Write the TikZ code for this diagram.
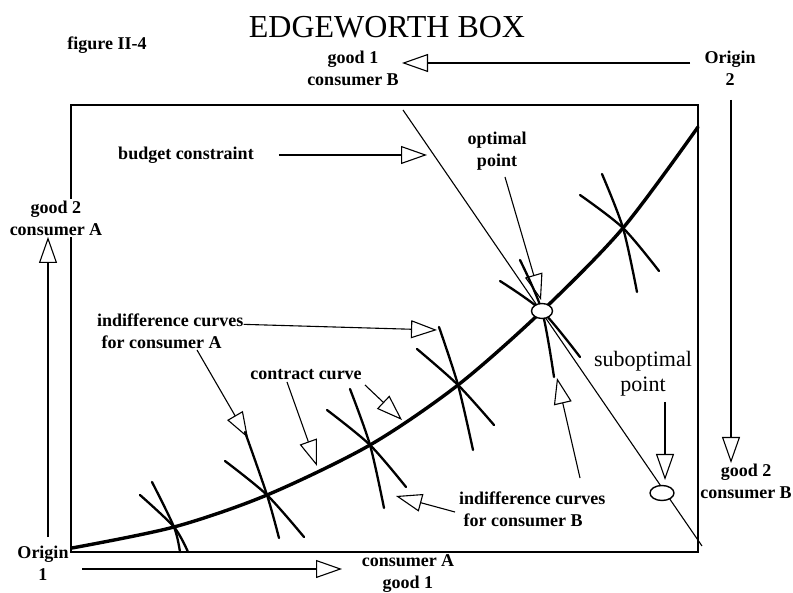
\documentclass[tikz,border=0pt]{standalone}
\usepackage{fontspec}
\setmainfont{Liberation Serif}
\usetikzlibrary{calc,arrows.meta,shapes.geometric}

\begin{document}
\begin{tikzpicture}[x=1pt,y=-1pt,
		etiq/.style={font=\fontsize{18}{22}\selectfont\bfseries,align=center,inner sep=0pt},
		fleche/.style={line width=1.1pt,-{Triangle[open,length=26pt,width=18pt,line width=1.1pt]}},
		contrat/.style={line width=3.4pt,line cap=round},
		indiff/.style={line width=2.3pt,line cap=round},
		point/.style={ellipse,draw,line width=1.4pt,fill=white,inner sep=0pt}]
		\pgfmathsetmacro{\largeur}{793}
		\pgfmathsetmacro{\hauteur}{593}
		\useasboundingbox(0,0)rectangle(\largeur,\hauteur);
		% la boite
		\coordinate(O1)at(71,552);
		\coordinate(O2)at(698,105);
		\draw[line width=1.3pt](O1)rectangle(O2);
		% titres et axes
		\node[font=\fontsize{32}{36}\selectfont,inner sep=0pt](titre)at(387,27){EDGEWORTH BOX};
		\node[etiq](fig)at(107,45){figure II-4};
		\node[etiq](bienUnB)at(353,68){good 1\\consumer B};
		\node[etiq](origDeux)at(730,68){Origin\\2};
		\node[etiq,fill=white,inner sep=2pt](bienDeuxA)at(56,218){good 2\\consumer A};
		\node[etiq](origUn)at(43,563){Origin\\1};
		\node[etiq](bienUnA)at(408,574){consumer A\\good 1};
		\node[etiq](bienDeuxB)at(746,481){good 2\\consumer B};
		\coordinate(hautD)at(690,63);
		\coordinate(hautG)at(402,63);
		\coordinate(droitH)at(731,100);
		\coordinate(droitB)at(731,463);
		\coordinate(gaucheB)at(48,537);
		\coordinate(gaucheH)at(48,237);
		\coordinate(basG)at(82,569);
		\coordinate(basD)at(342,569);
		\draw[fleche](hautD)--(hautG);
		\draw[fleche](droitH)--(droitB);
		\draw[fleche](gaucheB)--(gaucheH);
		\draw[fleche](basG)--(basD);
		% droite de budget
		\coordinate(budH)at(403,110);
		\coordinate(budB)at(702,546);
		\draw[line width=1.1pt](budH)--(budB);
		% courbe des contrats
		\draw[contrat] plot[smooth] coordinates{(72,548)(174,527)(267,495)(370,445)(458,385)(542,311)(623,228)(698,127)};
		% courbes d'indifference : debut / croisement / fin
		\foreach \xa/\ya/\xb/\yb/\xc/\yc in {
			140/495/174/527/188/552, 152/482/174/527/180/552,
			225/461/267/495/304/537, 245/432/267/495/279/538,
			327/410/370/445/406/487, 350/389/370/445/384/508,
			417/349/458/385/494/425, 439/327/458/385/473/450,
			500/281/542/311/580/357, 520/260/542/311/554/377,
			580/195/623/228/659/271, 602/174/623/228/637/292}{%
			\draw[indiff] plot[smooth] coordinates{(\xa,\ya)(\xb,\yb)(\xc,\yc)};
			}
		\node[point,minimum width=21pt,minimum height=15pt](optimum)at(542,311){};
		\node[point,minimum width=24pt,minimum height=15pt](sousopt)at(662,493){};
		% etiquettes interieures
		\node[etiq](budget)at(186,155){budget constraint};
		\node[etiq](opt)at(497,151){optimal\\point};
		\node[etiq,align=left,anchor=west](indA)at(97,331){indifference curves\\\ for consumer A};
		\node[etiq](contrat)at(306,375){contract curve};
		\node[font=\fontsize{22}{25}\selectfont,align=center,inner sep=0pt](subopt)at(643,374){suboptimal\\point};
		\node[etiq,align=left,anchor=west](indB)at(459,509){indifference curves\\\ for consumer B};
		\coordinate(budPt)at(427,155);
		\coordinate(optPt)at(541,300);
		\coordinate(indA1)at(437,330);
		\coordinate(indA2)at(248,438);
		\coordinate(cont1)at(317,466);
		\coordinate(cont2)at(402,420);
		\coordinate(subPt)at(665,480);
		\coordinate(indB1)at(396,496);
		\coordinate(indB2)at(557,378);
		\draw[fleche](budget.east)++(25,0)--(budPt);
		\draw[fleche](505,177)--(optPt);
		\draw[fleche](indA.north east)++(0,11)--(indA1);
		\draw[fleche](197,350)--(indA2);
		\draw[fleche](287,382)--(cont1);
		\draw[fleche](365,385)--(cont2);
		\draw[fleche](665,402)--(subPt);
		\draw[fleche](455,512)--(indB1);
		\draw[fleche](580,478)--(indB2);
	\end{tikzpicture}
\end{document}
